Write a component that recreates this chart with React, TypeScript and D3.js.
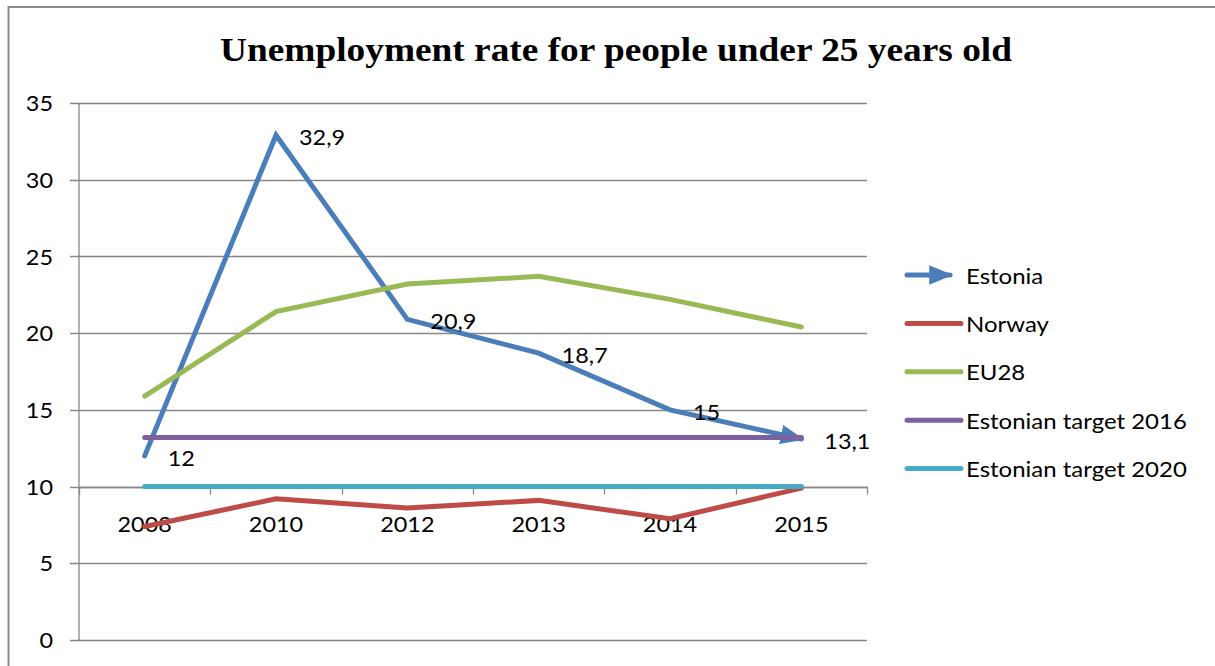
import React from "react";
import * as d3 from "d3";

const years = ["2008", "2010", "2012", "2013", "2014", "2015"];
const estonia = [12, 32.9, 20.9, 18.7, 15, 13.1];
const norway = [7.4, 9.2, 8.6, 9.1, 7.9, 9.9];
const eu28 = [15.9, 21.4, 23.2, 23.7, 22.2, 20.4];
const target2016 = [13.2, 13.2, 13.2, 13.2, 13.2, 13.2];
const target2020 = [10, 10, 10, 10, 10, 10];
const yTicks = [0, 5, 10, 15, 20, 25, 30, 35];
const seriesNames = ["Estonia", "Norway", "EU28", "Estonian target 2016", "Estonian target 2020"];
const seriesColors = ["#4A7EBB", "#BE4B48", "#98B954", "#7D60A0", "#46AAC5"];
const title = "Unemployment rate for people under 25 years old";

const W = 1215;
const H = 666;
const FONT = "Lato, 'Open Sans', sans-serif";
const SX = 1.09;

function T({
  x,
  y,
  anchor = "start",
  size = 21.5,
  children,
}: {
  x: number;
  y: number;
  anchor?: "start" | "middle" | "end";
  size?: number;
  children: React.ReactNode;
}) {
  return (
    <text
      transform={`translate(${x},${y}) scale(${SX},1)`}
      textAnchor={anchor}
      dominantBaseline="central"
      fontFamily={FONT}
      fontSize={size}
      fill="#000"
    >
      {children}
    </text>
  );
}

export default function App() {
  const x = d3.scaleBand<string>().domain(years).range([79, 867]).padding(0);
  const y = d3.scaleLinear().domain([0, 35]).range([640, 103]);
  const cx = (d: string) => (x(d) as number) + x.bandwidth() / 2;
  const allSeries = [estonia, norway, eu28, target2016, target2020];
  const line = d3
    .line<number>()
    .x((_, i) => cx(years[i]))
    .y((v) => y(v));
  const axisY = y(10);
  const boundaries = years.map((d) => x(d) as number).concat([867]);
  const fmt = (v: number) => String(v).replace(".", ",");

  return (
    <svg
      width={W}
      height={H}
      style={{ position: "absolute", left: 0, top: 0, background: "#fff" }}
    >
      <defs>
        <marker
          id="arrow"
          markerUnits="userSpaceOnUse"
          markerWidth={24}
          markerHeight={20}
          viewBox="0 0 22 18"
          refX={19}
          refY={9}
          orient="auto"
        >
          <path d="M0,0 L22,9 L0,18 Z" fill={seriesColors[0]} />
        </marker>
      </defs>
      <line x1={8.5} y1={7} x2={W} y2={7} stroke="#8a8a8a" strokeWidth={2} />
      <line x1={8.5} y1={6} x2={8.5} y2={H} stroke="#8a8a8a" strokeWidth={2} />

      <text
        x={220}
        y={61}
        textLength={792}
        lengthAdjust="spacingAndGlyphs"
        fontFamily="'Liberation Serif', 'Times New Roman', serif"
        fontWeight="bold"
        fontSize={34}
        fill="#000"
      >
        {title}
      </text>

      {yTicks.map((t) => (
        <line
          key={"g" + t}
          x1={70}
          x2={867}
          y1={Math.round(y(t)) + 0.5}
          y2={Math.round(y(t)) + 0.5}
          stroke="#878787"
          strokeWidth={1.3}
        />
      ))}
      {yTicks.map((t) => (
        <T key={"yt" + t} x={53} y={y(t)} anchor="end">
          {t}
        </T>
      ))}
      <line x1={79} x2={79} y1={103} y2={640} stroke="#878787" strokeWidth={1.3} />
      <line x1={79} x2={867} y1={Math.round(axisY) + 0.5} y2={Math.round(axisY) + 0.5} stroke="#878787" strokeWidth={1.3} />
      {boundaries.map((b, i) => (
        <line
          key={"xt" + i}
          x1={Math.round(b) + 0.5}
          x2={Math.round(b) + 0.5}
          y1={axisY}
          y2={axisY + 8}
          stroke="#878787"
          strokeWidth={1.3}
        />
      ))}
      {years.map((d) => (
        <T key={"xl" + d} x={cx(d)} y={axisY + 37} anchor="middle">
          {d}
        </T>
      ))}

      {allSeries.map((s, i) => (
        <path
          key={"s" + i}
          d={line(s) as string}
          fill="none"
          stroke={seriesColors[i]}
          strokeWidth={5}
          strokeLinecap="round"
          strokeLinejoin="miter"
          markerEnd={i === 0 ? "url(#arrow)" : undefined}
        />
      ))}

      {estonia.map((v, i) => (
        <T key={"dl" + i} x={cx(years[i]) + 23} y={y(v) + 2}>
          {fmt(v)}
        </T>
      ))}

      {seriesNames.map((n, i) => {
        const ly = 275 + i * 48.4;
        return (
          <g key={"lg" + i}>
            <line
              x1={907}
              x2={i === 0 ? 950 : 961}
              y1={ly}
              y2={ly}
              stroke={seriesColors[i]}
              strokeWidth={5}
              strokeLinecap="round"
              markerEnd={i === 0 ? "url(#arrow)" : undefined}
            />
            <T x={966} y={ly} size={22}>
              {n}
            </T>
          </g>
        );
      })}
    </svg>
  );
}
